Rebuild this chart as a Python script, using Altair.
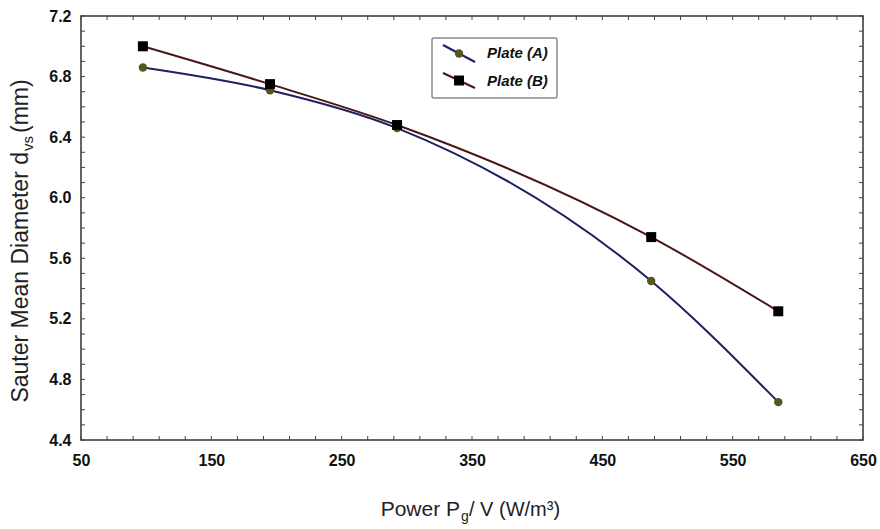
import altair as alt
import pandas as pd

# ---- data ----
power = [97.5, 195, 292.5, 487.5, 585]
plate_a = [6.86, 6.71, 6.46, 5.45, 4.65]
plate_b = [7.00, 6.75, 6.48, 5.74, 5.25]
series_names = ["Plate (A)", "Plate (B)"]

x_labels = [50, 150, 250, 350, 450, 550, 650]
y_labels = [4.4, 4.8, 5.2, 5.6, 6.0, 6.4, 6.8, 7.2]
x_minor = list(range(50, 651, 20))
y_minor = [round(4.4 + 0.1 * i, 1) for i in range(29)]

line_colors = ["#1c2060", "#4a1616"]
marker_fill = ["#55551c", "#000000"]
marker_shape = ["circle", "square"]
marker_size = [70, 100]

W, H = 782, 424
FONT = "Liberation Sans, Arial, sans-serif"

df = pd.DataFrame({
    "power": power * 2,
    "d": plate_a + plate_b,
    "series": [series_names[0]] * len(power) + [series_names[1]] * len(power),
})

xs = alt.Scale(domain=[50, 650], nice=False, zero=False)
ys = alt.Scale(domain=[4.4, 7.2], nice=False, zero=False)

xaxis = alt.Axis(values=x_labels, format="d", ticks=False, domain=False, grid=False,
                 title=None, labelFont=FONT, labelFontSize=16, labelFontWeight="bold",
                 labelColor="#111", labelPadding=12, labelFlush=False, labelOverlap=False)
yaxis = alt.Axis(values=y_labels, format=".1f", ticks=False, domain=False, grid=False,
                 title=None, labelFont=FONT, labelFontSize=16, labelFontWeight="bold",
                 labelColor="#111", labelPadding=10, labelFlush=False, labelOverlap=False)

X = lambda f: alt.X(f, scale=xs, axis=xaxis, title=None)
Y = lambda f: alt.Y(f, scale=ys, axis=yaxis, title=None)

base = alt.Chart(df)

lines = base.mark_line(interpolate="monotone", strokeWidth=2).encode(
    x=X("power:Q"),
    y=Y("d:Q"),
    stroke=alt.Stroke("series:N", scale=alt.Scale(domain=series_names, range=line_colors), legend=None),
    detail="series:N",
)

points = base.mark_point(filled=True, opacity=1).encode(
    x=X("power:Q"),
    y=Y("d:Q"),
    fill=alt.Fill("series:N", scale=alt.Scale(domain=series_names, range=marker_fill), legend=None),
    shape=alt.Shape("series:N", scale=alt.Scale(domain=series_names, range=marker_shape), legend=None),
    size=alt.Size("series:N", scale=alt.Scale(domain=series_names, range=marker_size), legend=None),
)

# minor ticks, inward on all four sides
xt = pd.DataFrame({"power": x_minor})
yt = pd.DataFrame({"d": y_minor})
tick_style = dict(color="#444", strokeWidth=1)
xt_bottom = alt.Chart(xt).mark_rule(**tick_style).encode(
    x=X("power:Q"), y=alt.value(H), y2=alt.value(H - 4))
xt_top = alt.Chart(xt).mark_rule(**tick_style).encode(
    x=X("power:Q"), y=alt.value(0), y2=alt.value(4))
yt_left = alt.Chart(yt).mark_rule(**tick_style).encode(
    y=Y("d:Q"), x=alt.value(0), x2=alt.value(4))
yt_right = alt.Chart(yt).mark_rule(**tick_style).encode(
    y=Y("d:Q"), x=alt.value(W), x2=alt.value(W - 4))

# legend (drawn by hand to show line + marker)
one = pd.DataFrame({"k": [0]})
leg_box = alt.Chart(one).mark_rect(fill="white", stroke="#8a8a8a", strokeWidth=1.5, cornerRadius=2).encode(
    x=alt.value(351), x2=alt.value(476), y=alt.value(22), y2=alt.value(82))
leg_layers = [leg_box]
rows = [(29, 46, 37), (57, 72, 65)]
for i, (ya, yb, yc) in enumerate(rows):
    leg_layers.append(alt.Chart(one).mark_rule(color=line_colors[i], strokeWidth=2).encode(
        x=alt.value(362), x2=alt.value(394), y=alt.value(ya), y2=alt.value(yb)))
    leg_layers.append(alt.Chart(one).mark_point(filled=True, opacity=1, shape=marker_shape[i],
                                                 size=marker_size[i], color=marker_fill[i]).encode(
        x=alt.value(378), y=alt.value((ya + yb) / 2)))
    leg_layers.append(alt.Chart(one).mark_text(align="left", baseline="middle", font=FONT,
                                                fontSize=15, fontWeight="bold", fontStyle="italic",
                                                color="#111").encode(
        x=alt.value(406), y=alt.value(yc), text=alt.value(series_names[i])))

# axis titles with sub/superscripts
tcol = "#222"
xt1 = alt.Chart(one).mark_text(align="right", baseline="alphabetic", font=FONT, fontSize=21, color=tcol).encode(
    x=alt.value(379), y=alt.value(500), text=alt.value("Power P"))
xt2 = alt.Chart(one).mark_text(align="left", baseline="alphabetic", font=FONT, fontSize=14, color=tcol).encode(
    x=alt.value(380), y=alt.value(505), text=alt.value("g"))
xt3 = alt.Chart(one).mark_text(align="left", baseline="alphabetic", font=FONT, fontSize=20, color=tcol).encode(
    x=alt.value(388), y=alt.value(500), text=alt.value("/ V (W/m³)"))

yt1 = alt.Chart(one).mark_text(align="right", baseline="alphabetic", angle=270, font=FONT, fontSize=23, color=tcol).encode(
    x=alt.value(-53), y=alt.value(136), text=alt.value("Sauter Mean Diameter d"))
yt2 = alt.Chart(one).mark_text(align="left", baseline="alphabetic", angle=270, font=FONT, fontSize=15, color=tcol).encode(
    x=alt.value(-48), y=alt.value(135), text=alt.value("vs"))
yt3 = alt.Chart(one).mark_text(align="left", baseline="alphabetic", angle=270, font=FONT, fontSize=23, color=tcol).encode(
    x=alt.value(-53), y=alt.value(117), text=alt.value(" (mm)"))

chart = alt.layer(
    lines, xt_bottom, xt_top, yt_left, yt_right, points, *leg_layers,
    xt1, xt2, xt3, yt1, yt2, yt3,
).properties(
    width=W, height=H,
    autosize=alt.AutoSizeParams(type="none"),
    padding={"left": 81, "top": 16, "right": 17, "bottom": 89},
    background="white",
).configure_view(stroke="#333", strokeWidth=1.5)

chart.save("out.html", embed_options={"renderer": "svg", "actions": False})
